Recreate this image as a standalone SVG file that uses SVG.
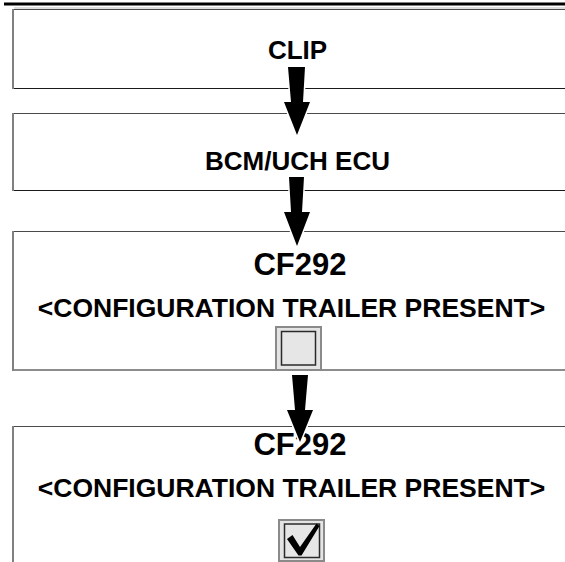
<svg xmlns="http://www.w3.org/2000/svg" width="565" height="562" viewBox="0 0 565 562">
<style>
.bg{fill:#ffffff}
.top{stroke:#4a4a4a;stroke-width:1;fill:none}
.bot{stroke:#1a1a1a;stroke-width:1;fill:none}
.left{stroke:#808080;stroke-width:2;fill:none}
.t{font-family:"Liberation Sans",Arial,sans-serif;font-weight:bold;fill:#000;text-anchor:middle}
.arrow{fill:#000;stroke:#fff;stroke-width:3;paint-order:stroke;stroke-linejoin:miter}
.cbo{fill:#e4e4e4;stroke:#8a8a8a;stroke-width:2}
.cbi{fill:#e6e6e6;stroke:#2a2a2a;stroke-width:1.5}
</style>
<rect class="bg" x="0" y="0" width="565" height="562"/>
<line x1="4" y1="4" x2="565" y2="4" stroke="#000" stroke-width="3"/>
<line x1="14" y1="8" x2="565" y2="8" stroke="#bdbdbd" stroke-width="1"/>

<g id="node-clip">
<line class="top" x1="12" y1="9.5" x2="565" y2="9.5"/>
<line class="bot" x1="12" y1="88.5" x2="565" y2="88.5"/>
<line class="left" x1="13" y1="9" x2="13" y2="89"/>
<text class="t" x="297.5" y="59" font-size="26">CLIP</text>
</g>

<g id="node-bcm">
<line class="top" x1="12" y1="113.5" x2="565" y2="113.5"/>
<line class="bot" x1="12" y1="190.5" x2="565" y2="190.5"/>
<line class="left" x1="13" y1="113" x2="13" y2="191"/>
<text class="t" x="297.5" y="170" font-size="26">BCM/UCH ECU</text>
</g>

<g id="node-cf292-off">
<line class="top" x1="12" y1="231.5" x2="565" y2="231.5"/>
<line class="bot" x1="12" y1="370" x2="565" y2="370"/>
<line class="left" x1="13" y1="231" x2="13" y2="370.5"/>
<text class="t" x="300" y="275" font-size="31">CF292</text>
<text class="t" x="291.5" y="317" font-size="26.5">&lt;CONFIGURATION TRAILER PRESENT&gt;</text>
<rect class="cbo" x="276" y="327" width="45" height="43"/>
<rect class="cbi" x="281.5" y="331.5" width="34" height="33.5"/>
</g>

<g id="node-cf292-on">
<line class="top" x1="12" y1="426.5" x2="565" y2="426.5"/>
<line class="left" x1="13" y1="426" x2="13" y2="562"/>
<text class="t" x="300" y="455" font-size="31">CF292</text>
<text class="t" x="291.5" y="497" font-size="26.5">&lt;CONFIGURATION TRAILER PRESENT&gt;</text>
<rect class="cbo" x="279" y="520" width="45" height="41"/>
<rect class="cbi" x="284.5" y="524" width="35" height="33.5"/>
<path d="M287,539 L292.5,535 L300,547 L316.5,523.5 L319.5,526 L301.5,555.5 L298.5,555.5 Z" fill="#000"/>
</g>

<g id="connectors">
<polygon class="arrow" points="288,67 305,67 303,102 310,102 297,135 284,102 291,102"/>
<polygon class="arrow" points="289,177 304,177 302,212 310,212 297,246 284,212 291,212"/>
<polygon class="arrow" points="292,375 308,375 305,410 313,410 300,442 287,410 295,410"/>
</g>
</svg>
